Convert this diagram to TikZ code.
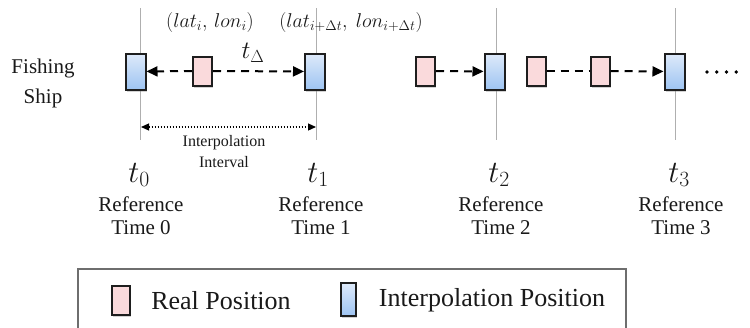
\documentclass[tikz,border=0pt]{standalone}
\usepackage{fix-cm}
\usepackage{fontspec}
\setmainfont{Liberation Serif}
\newfontfamily\timesfont{Liberation Serif}
\usetikzlibrary{arrows.meta,shadows}
\definecolor{pinkfill}{RGB}{250,218,220}
\definecolor{bluetop}{RGB}{222,234,250}
\definecolor{bluebot}{RGB}{158,196,242}
\definecolor{boxline}{RGB}{30,30,30}
\definecolor{vline}{RGB}{175,175,175}
\definecolor{legline}{RGB}{110,110,110}
\definecolor{txt}{RGB}{25,25,25}
\tikzset{
  realbox/.style={draw=boxline, line width=2pt, fill=pinkfill, minimum width=19pt, minimum height=29pt, inner sep=0pt,
    drop shadow={shadow xshift=1pt, shadow yshift=-2pt, opacity=0.35}},
  interbox/.style={draw=boxline, line width=2pt, top color=bluetop, bottom color=bluebot, minimum width=20pt, minimum height=36pt, inner sep=0pt,
    drop shadow={shadow xshift=1pt, shadow yshift=-2pt, opacity=0.35}},
  reftime/.style={vline, line width=0.8pt},
  dasharrow/.style={line width=2pt, dash pattern=on 8pt off 6pt, -{Triangle[length=11pt,width=10pt]}},
  dashplain/.style={line width=2pt, dash pattern=on 8pt off 6pt},
  intervalarrow/.style={line width=1.2pt, dash pattern=on 1.5pt off 1.5pt, {Triangle[length=8pt,width=7pt]}-{Triangle[length=8pt,width=7pt]}},
  lbl/.style={inner sep=0pt, align=center, text=txt},
}
\newcommand{\fs}[2]{\fontsize{#1}{#2}\timesfont}
\begin{document}
\begin{tikzpicture}[x=1pt,y=-1pt]
\useasboundingbox (0,0) rectangle (750,327);
% reference time lines
\coordinate (v0a) at (140,8);  \coordinate (v0b) at (140,140);
\coordinate (v1a) at (316,8);  \coordinate (v1b) at (316,140);
\coordinate (v2a) at (496,8);  \coordinate (v2b) at (496,140);
\coordinate (v3a) at (675,8);  \coordinate (v3b) at (675,140);
\draw[reftime] (v0a) -- (v0b);
\draw[reftime] (v1a) -- (v1b);
\draw[reftime] (v2a) -- (v2b);
\draw[reftime] (v3a) -- (v3b);
% boxes
\node[interbox] (b0) at (135.5,71.5) {};
\node[realbox]  (p1) at (202.5,71) {};
\node[interbox] (b1) at (315,71.5) {};
\node[realbox]  (p2) at (425.5,71) {};
\node[interbox] (b2) at (494.5,71.5) {};
\node[realbox]  (p3) at (536,71) {};
\node[realbox]  (p4) at (600,71) {};
\node[interbox] (b3) at (674.5,71.5) {};
% connectors
\draw[dasharrow] (p1) -- (b0);
\draw[dasharrow] (p1) -- (b1);
\draw[dasharrow] (p2) -- (b2);
\draw[dashplain] (p3) -- (p4);
\draw[dasharrow] (p4) -- (b3);
% continuation dots
\coordinate (d1) at (707,72); \coordinate (d2) at (746,72);
\draw[line width=3.6pt, line cap=round, dash pattern=on 0pt off 9.75pt] (d1) -- (d2);
% labels
\node[lbl, font=\fs{21}{30}] (ship) at (43,83) {Fishing\\Ship};
\node[lbl, font=\fs{20}{22}] (llA) at (210,22) {$(lat_i,\, lon_i)$};
\node[lbl, font=\fs{20}{22}] (llB) at (351,22) {$(lat_{i+\Delta t},\ lon_{i+\Delta t})$};
\node[lbl, font=\fs{25}{26}] (td) at (253,53) {$t_\Delta$};
% interpolation interval
\coordinate (i0) at (141,127); \coordinate (i1) at (316,127);
\draw[intervalarrow] (i0) -- (i1);
\node[lbl, font=\fs{16}{21}] (ii) at (224,152) {Interpolation\\Interval};
% time labels
\node[lbl, font=\fs{31}{32}] (t0) at (139,175) {$t_0$};
\node[lbl, font=\fs{31}{32}] (t1) at (318,175) {$t_1$};
\node[lbl, font=\fs{31}{32}] (t2) at (499,175) {$t_2$};
\node[lbl, font=\fs{31}{32}] (t3) at (679,175) {$t_3$};
\node[lbl, font=\fs{21}{23}] (r0) at (141,216) {Reference\\Time 0};
\node[lbl, font=\fs{21}{23}] (r1) at (321,216) {Reference\\Time 1};
\node[lbl, font=\fs{21}{23}] (r2) at (501,216) {Reference\\Time 2};
\node[lbl, font=\fs{21}{23}] (r3) at (681,216) {Reference\\Time 3};
% legend
\coordinate (la) at (78,330); \coordinate (lb) at (78,269); \coordinate (lc) at (626,269); \coordinate (ld) at (626,330);
\draw[legline, line width=1.5pt] (la) -- (lb) -- (lc) -- (ld);
\node[realbox, minimum width=18pt, minimum height=29pt] (lr) at (121,300) {};
\node[lbl, font=\fs{26}{28}] (lrt) at (221,301) {Real Position};
\node[interbox, minimum width=15pt, minimum height=33pt] (li) at (348.5,299.5) {};
\node[lbl, font=\fs{26}{28}] (lit) at (492,300) {Interpolation Position};
\end{tikzpicture}
\end{document}
